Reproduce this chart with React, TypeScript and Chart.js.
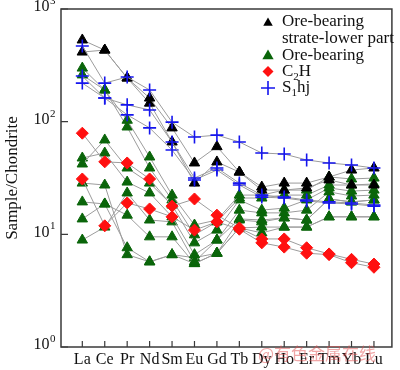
import React, { useEffect, useRef } from "react";
import { Chart, registerables } from "chart.js";

Chart.register(...registerables);

// ---- data ----
const elements = ["La", "Ce", "Pr", "Nd", "Sm", "Eu", "Gd", "Tb", "Dy", "Ho", "Er", "Tm", "Yb", "Lu"];
const yTickValues = [1, 10, 100, 1000];
const yTickExponents = ["0", "1", "2", "3"];

// Ore-bearing strate-lower part (black triangles)
const lowerA = [531, 432, 244, 162, 88, 43, 60, 35.7, 26.3, 28.5, 28.5, 32.3, 37.2, 38.8];
const lowerB = [415, 432, 244, 146, 66, 28.5, 43.9, 35.7, 24.7, 24.7, 25.8, 30.4, 27.4, 27.4];

// Ore-bearing (green triangles)
const ore1 = [299, 191, 103, 48.6, 22.3, 12.1, 13.4, 22.3, 22.3, 24.7, 24.7, 32.3, 31.0, 31.6];
const ore2 = [260, 191, 89.7, 38.8, 20.2, 9.9, 12.9, 21.0, 21.0, 22.3, 22.3, 27.4, 27.4, 28.0];
const ore3 = [42.1, 68.8, 38.8, 28.5, 18.2, 8.4, 10.9, 20.2, 16.4, 17.1, 20.2, 25.8, 24.2, 24.7];
const ore4 = [47.6, 52.7, 29.1, 23.3, 14.3, 6.6, 8.9, 16.4, 15.5, 15.5, 16.4, 23.8, 21.9, 22.3];
const ore5 = [8.9, 11.6, 23.3, 13.4, 12.9, 5.7, 8.9, 13.7, 13.4, 14.0, 13.4, 20.6, 19.4, 20.2];
const ore6 = [13.7, 18.6, 14.8, 9.5, 9.5, 5.5, 6.8, 13.4, 12.9, 14.0, 13.4, 20.6, 19.4, 20.2];
const ore7 = [19.4, 18.6, 7.6, 5.7, 6.6, 6.2, 6.8, 11.4, 11.6, 11.6, 11.6, 14.3, 14.3, 14.3];
const ore8 = [28.5, 27.4, 6.6, 5.7, 6.6, 5.5, 6.8, 11.4, 10.3, 11.6, 11.6, 14.3, 14.3, 14.3];

// C2H (red diamonds)
const c2hA = [79, 44, 43, 31, 17.8, 20.6, 14.8, 11.4, 9.1, 9.1, 7.6, 6.7, 6.0, 5.45];
const c2hB = [31, 11.9, 19, 16.8, 14.3, 10.9, 12.9, 11.1, 8.4, 7.7, 6.8, 6.6, 5.6, 5.1];

// S1hj (blue crosses)
const s1hjA = [470, 220, 249, 191, 99, 73, 76, 66, 52.7, 51.6, 45.7, 43, 41.2, 38.8];
const s1hjB = [254, 162, 141, 127, 66, 31.6, 38.8, 28.5, 22.3, 21.4, 20.2, 19.4, 19.0, 18.2];
const s1hjC = [220, 162, 115, 88, 56, 30.4, 37.2, 27.4, 21.4, 21.0, 19.8, 19.0, 18.6, 17.8];

const SERIF = "'Liberation Serif', 'Times New Roman', serif";
const BLACK = "#000000";
const GREEN = "#0a650a";
const RED = "#ff1010";
const BLUE = "#1515ee";
const LINE = "#9c9c9c";

type Style = { pointStyle: string; color: string; radius: number; bw: number };
const styles: Record<string, Style> = {
  lower: { pointStyle: "triangle", color: BLACK, radius: 6, bw: 1 },
  ore: { pointStyle: "triangle", color: GREEN, radius: 6, bw: 1 },
  c2h: { pointStyle: "rectRot", color: RED, radius: 6, bw: 1 },
  s1hj: { pointStyle: "cross", color: BLUE, radius: 6.5, bw: 1.6 },
};

function makeDataset(values: number[], key: string) {
  const s = styles[key];
  return {
    data: values.map((v, i) => ({ x: i, y: v })),
    borderColor: LINE,
    borderWidth: 1,
    pointStyle: s.pointStyle,
    pointRadius: s.radius,
    pointBackgroundColor: s.color,
    pointBorderColor: s.color,
    pointBorderWidth: s.bw,
    fill: false,
    tension: 0,
  };
}

function drawTriangle(ctx: CanvasRenderingContext2D, x: number, y: number, r: number, color: string) {
  ctx.beginPath();
  ctx.moveTo(x, y - r);
  ctx.lineTo(x + r * 0.866, y + r * 0.5);
  ctx.lineTo(x - r * 0.866, y + r * 0.5);
  ctx.closePath();
  ctx.fillStyle = color;
  ctx.fill();
}

const decorPlugin = {
  id: "decor",
  afterDraw(chart: any) {
    const ctx: CanvasRenderingContext2D = chart.ctx;
    const { left, right, top, bottom } = chart.chartArea;
    const xs = chart.scales.x;
    const ys = chart.scales.y;
    ctx.save();
    // frame
    ctx.strokeStyle = "#3a3a3a";
    ctx.lineWidth = 1.5;
    ctx.strokeRect(left, top, right - left, bottom - top);
    // inward ticks
    ctx.lineWidth = 1.2;
    ctx.beginPath();
    yTickValues.forEach((v) => {
      const y = ys.getPixelForValue(v);
      ctx.moveTo(left, y);
      ctx.lineTo(left + 7, y);
    });
    elements.forEach((_, i) => {
      const x = xs.getPixelForValue(i);
      ctx.moveTo(x, bottom);
      ctx.lineTo(x, bottom - 6);
    });
    ctx.stroke();

    // y tick labels with superscripts
    ctx.fillStyle = "#111";
    ctx.textBaseline = "middle";
    ctx.textAlign = "left";
    yTickValues.forEach((v, i) => {
      const y = ys.getPixelForValue(v) - 2;
      ctx.font = `16px ${SERIF}`;
      const wBase = ctx.measureText("10").width;
      ctx.font = `11px ${SERIF}`;
      const wSup = ctx.measureText(yTickExponents[i]).width;
      const x0 = left - 6 - wSup - wBase;
      ctx.font = `16px ${SERIF}`;
      ctx.fillText("10", x0, y);
      ctx.font = `11px ${SERIF}`;
      ctx.fillText(yTickExponents[i], x0 + wBase + 0.5, y - 6);
    });

    // legend
    const lx = 268;
    const tx = 282;
    ctx.font = `17px ${SERIF}`;
    ctx.fillStyle = "#111";
    drawTriangle(ctx, lx, 23, 5.5, BLACK);
    ctx.fillStyle = "#111";
    ctx.fillText("Ore-bearing", tx, 22);
    ctx.fillText("strate-lower part", tx, 39);
    drawTriangle(ctx, lx, 56, 6.5, GREEN);
    ctx.fillStyle = "#111";
    ctx.fillText("Ore-bearing", tx, 56);
    // red diamond
    ctx.beginPath();
    ctx.moveTo(lx, 66);
    ctx.lineTo(lx + 5.5, 71.5);
    ctx.lineTo(lx, 77);
    ctx.lineTo(lx - 5.5, 71.5);
    ctx.closePath();
    ctx.fillStyle = RED;
    ctx.fill();
    ctx.fillStyle = "#111";
    ctx.font = `17px ${SERIF}`;
    ctx.fillText("C", tx, 72);
    let w = ctx.measureText("C").width;
    ctx.font = `11px ${SERIF}`;
    ctx.fillText("2", tx + w, 77);
    const w2 = ctx.measureText("2").width;
    ctx.font = `17px ${SERIF}`;
    ctx.fillText("H", tx + w + w2, 72);
    // blue cross
    ctx.strokeStyle = BLUE;
    ctx.lineWidth = 1.6;
    ctx.beginPath();
    ctx.moveTo(lx - 7, 88);
    ctx.lineTo(lx + 7, 88);
    ctx.moveTo(lx, 81);
    ctx.lineTo(lx, 95);
    ctx.stroke();
    ctx.fillStyle = "#111";
    ctx.fillText("S", tx, 88);
    w = ctx.measureText("S").width;
    ctx.font = `11px ${SERIF}`;
    ctx.fillText("1", tx + w, 93);
    const w1 = ctx.measureText("1").width;
    ctx.font = `17px ${SERIF}`;
    ctx.fillText("hj", tx + w + w1, 88);

    // watermark
    ctx.font = `17px 'Noto Sans CJK SC', sans-serif`;
    ctx.fillStyle = "rgba(225, 80, 80, 0.5)";
    ctx.fillText("@有色金属在线", 258, 354);
    ctx.restore();
  },
};

export default function App() {
  const ref = useRef<HTMLCanvasElement | null>(null);

  useEffect(() => {
    if (!ref.current) return;
    const datasets = [
      makeDataset(s1hjA, "s1hj"),
      makeDataset(s1hjB, "s1hj"),
      makeDataset(s1hjC, "s1hj"),
      makeDataset(c2hA, "c2h"),
      makeDataset(c2hB, "c2h"),
      makeDataset(lowerA, "lower"),
      makeDataset(lowerB, "lower"),
      makeDataset(ore1, "ore"),
      makeDataset(ore2, "ore"),
      makeDataset(ore3, "ore"),
      makeDataset(ore4, "ore"),
      makeDataset(ore5, "ore"),
      makeDataset(ore6, "ore"),
      makeDataset(ore7, "ore"),
      makeDataset(ore8, "ore"),
    ];
    const chart = new Chart(ref.current, {
      type: "line",
      data: { datasets } as any,
      plugins: [decorPlugin as any],
      options: {
        animation: false,
        responsive: false,
        devicePixelRatio: 1,
        layout: { padding: { top: 9, right: 5, left: 0, bottom: 0 } },
        plugins: { legend: { display: false }, tooltip: { enabled: false }, title: { display: false } },
        scales: {
          x: {
            type: "linear",
            min: -0.95,
            max: 13.8,
            grid: { display: false, drawTicks: false },
            border: { display: false },
            afterBuildTicks: (scale: any) => {
              scale.ticks = elements.map((_, i) => ({ value: i }));
            },
            afterFit: (scale: any) => {
              scale.height = 23;
            },
            ticks: {
              autoSkip: false,
              maxRotation: 0,
              padding: 3,
              color: "#111",
              font: { family: SERIF, size: 16 },
              callback: (v: any) => elements[v as number] ?? "",
            },
          },
          y: {
            type: "logarithmic",
            min: 1,
            max: 1000,
            grid: { display: false, drawTicks: false },
            border: { display: false },
            afterBuildTicks: (scale: any) => {
              scale.ticks = yTickValues.map((v) => ({ value: v }));
            },
            afterFit: (scale: any) => {
              scale.width = 61;
            },
            ticks: { display: false },
            title: {
              display: true,
              text: "Sample/Chondrite",
              color: "#111",
              font: { family: SERIF, size: 17 },
              padding: { top: 2, bottom: 0 },
            },
          },
        },
      } as any,
    });
    return () => chart.destroy();
  }, []);

  return (
    <div style={{ position: "absolute", left: 0, top: 0, width: 400, height: 370, background: "#fff" }}>
      <canvas ref={ref} width={400} height={370} style={{ display: "block" }} />
    </div>
  );
}
